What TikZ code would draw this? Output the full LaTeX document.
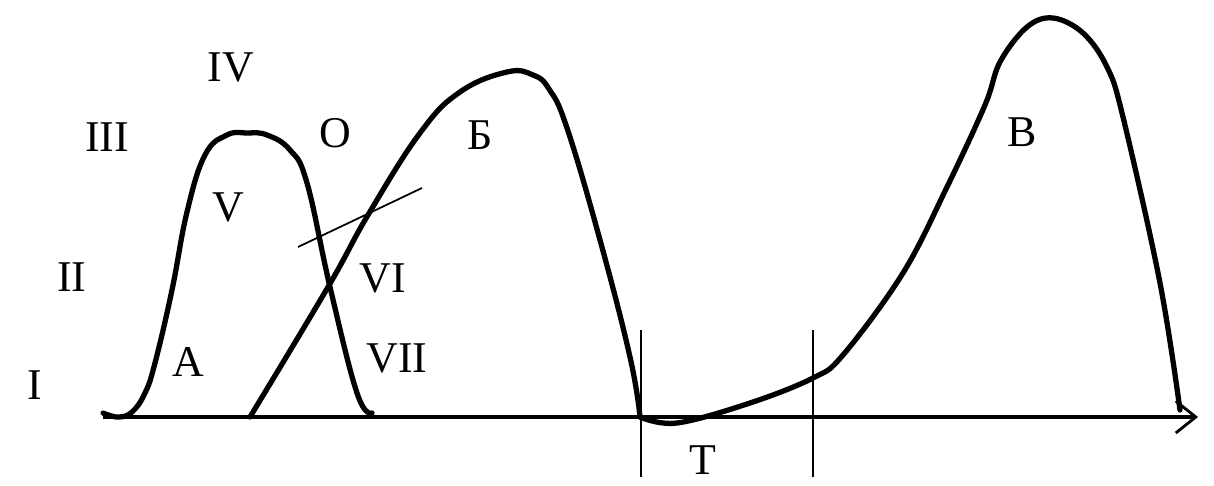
\documentclass[tikz,border=0pt]{standalone}
\usepackage{fontspec}
\setmainfont{Liberation Serif}
\usepackage{tikz}
\usetikzlibrary{arrows.meta}

\begin{document}
\begin{tikzpicture}[x=0.02cm, y=-0.02cm,
  curve/.style={line width=3pt, line join=round, line cap=round},
  axis/.style={line width=2pt, -{Straight Barb[length=4mm, width=6.4mm, line width=1.6pt]}},
  mark line/.style={line width=1pt},
  lbl/.style={inner sep=0pt, font=\fontsize{25}{30}\selectfont}
]
\useasboundingbox (0,0) rectangle (1214,486);
% axis and markers
\coordinate (start) at (103,417);
\coordinate (end) at (1198,417);
\draw[axis] (start) -- (end);
\draw[mark line] (641,330) -- (641,477);
\draw[mark line] (813,330) -- (813,477);
\draw[mark line] (298,247) -- (422,188);
% curve A
\draw[curve] plot[smooth, tension=0.7] coordinates {(103,413) (118,417) (132,412) (145,393)
  (155,363) (172,290) (187,212) (205,155) (227,135) (247,133) (267,135) (290,150) (307,183)
  (330,287) (357,393) (372,413)};
% curve B
\draw[curve] plot[smooth, tension=0.7] coordinates {(250,417) (328,287) (368,215)
  (420,133) (460,92) (507,72) (533,75) (549,89) (567,128) (600,240)
  (630,357) (640,417)};
% curve T and V
\draw[curve] plot[smooth, tension=0.6] coordinates {(640,417) (677,423) (750,403)
  (813,378) (843,355) (903,273) (947,187) (985,105) (1000,62)
  (1027,27) (1053,18) (1083,33) (1107,67) (1123,117) (1160,283) (1180,410)};
% labels
\node[lbl] (l1) at (35,385) {I};
\node[lbl] (l2) at (72,277) {II};
\node[lbl] (l3) at (107,137) {III};
\node[lbl] (l4) at (231,67) {IV};
\node[lbl] (l5) at (228,207) {V};
\node[lbl] (l0) at (335,133) {О};
\node[lbl] (l6) at (383,278) {VI};
\node[lbl] (l7) at (397,358) {VII};
\node[lbl] (pa) at (188,362) {А};
\node[lbl] (pb) at (480,135) {Б};
\node[lbl] (pv) at (1022,132) {В};
\node[lbl] (pt) at (703,460) {Т};
\end{tikzpicture}
\end{document}
